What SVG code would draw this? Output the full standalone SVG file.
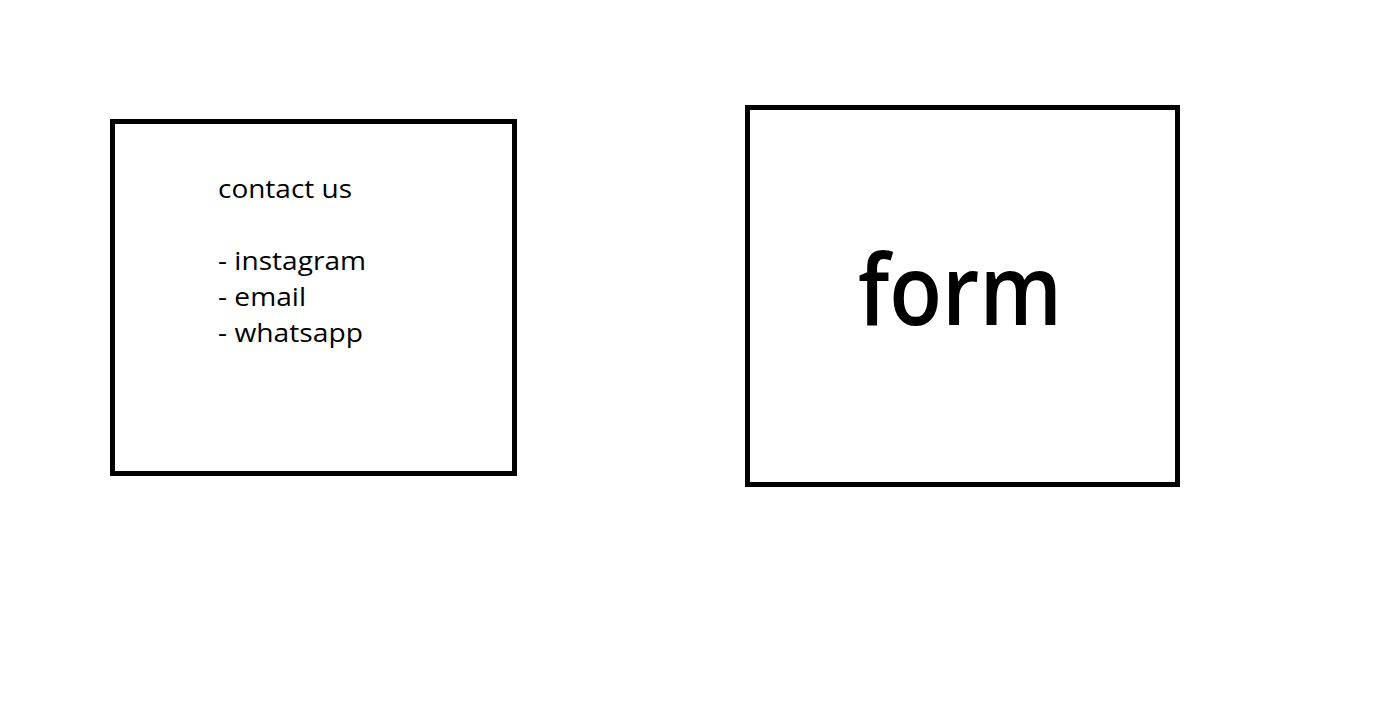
<svg xmlns="http://www.w3.org/2000/svg" width="1379" height="720" viewBox="0 0 1379 720">
  <style>
    .box { fill: #ffffff; stroke: #000000; stroke-width: 5; }
    .t { font-family: "Open Sans", "Noto Sans", sans-serif; fill: #000000; font-weight: 500; }
    .small { font-size: 26px; }
    .big { font-size: 98px; font-weight: 600; }
  </style>
  <rect x="0" y="0" width="1379" height="720" fill="#ffffff"/>
  <g id="contact">
    <rect class="box" x="112.5" y="121.5" width="402" height="352"/>
    <text class="t small" x="218" y="198" textLength="134" lengthAdjust="spacingAndGlyphs">contact us</text>
    <text class="t small" x="218" y="270" textLength="148" lengthAdjust="spacingAndGlyphs">- instagram</text>
    <text class="t small" x="218" y="306" textLength="88" lengthAdjust="spacingAndGlyphs">- email</text>
    <text class="t small" x="218" y="342" textLength="145" lengthAdjust="spacingAndGlyphs">- whatsapp</text>
  </g>
  <g id="form">
    <rect class="box" x="747.5" y="107.5" width="430" height="377"/>
    <text class="t big" x="858" y="325" textLength="204" lengthAdjust="spacingAndGlyphs">form</text>
  </g>
  <g id="connectors"></g>
</svg>
